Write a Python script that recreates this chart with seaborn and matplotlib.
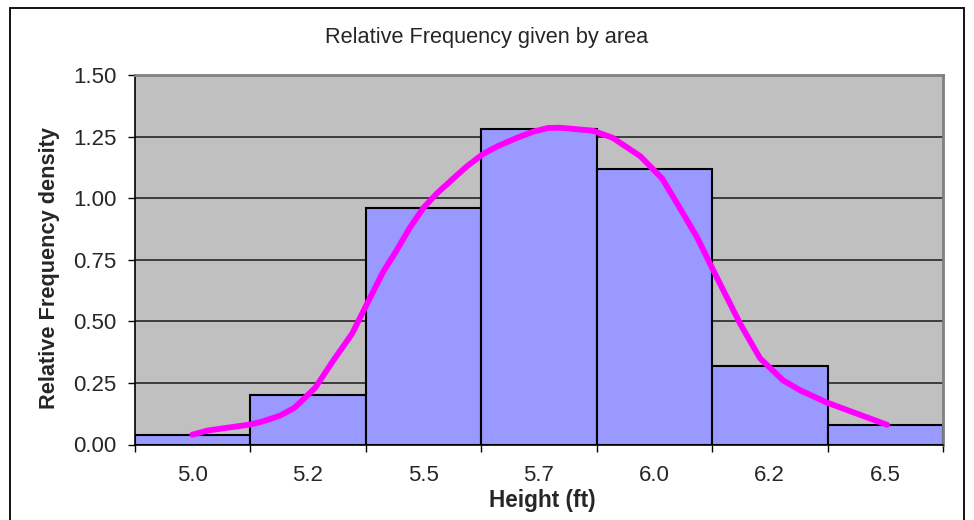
import matplotlib
matplotlib.use("Agg")
import matplotlib.pyplot as plt
import seaborn as sns
import pandas as pd
import numpy as np
from matplotlib.patches import Rectangle

# ---- data ----
categories = ["5.0", "5.2", "5.5", "5.7", "6.0", "6.2", "6.5"]
bin_start = 5.0
bin_width = 0.25
densities = [0.04, 0.20, 0.96, 1.28, 1.12, 0.32, 0.08]

curve_height = [5.000, 5.034, 5.125, 5.153, 5.190, 5.222, 5.266, 5.305, 5.346,
                5.378, 5.413, 5.443, 5.471, 5.500, 5.530, 5.565, 5.595, 5.630,
                5.660, 5.703, 5.738, 5.770, 5.796, 5.867, 5.910, 5.970, 6.017,
                6.049, 6.093, 6.127, 6.186, 6.229, 6.279, 6.316, 6.374, 6.504]
curve_density = [0.04, 0.057, 0.081, 0.094, 0.117, 0.15, 0.23, 0.34, 0.45,
                 0.57, 0.70, 0.79, 0.88, 0.96, 1.02, 1.08, 1.13, 1.18,
                 1.21, 1.245, 1.27, 1.285, 1.286, 1.274, 1.245, 1.17, 1.08,
                 0.98, 0.84, 0.71, 0.49, 0.35, 0.26, 0.22, 0.17, 0.08]

title = "Relative Frequency given by area"
xlabel = "Height (ft)"
ylabel = "Relative Frequency density"
yticks = [0.00, 0.25, 0.50, 0.75, 1.00, 1.25, 1.50]

# ---- style ----
sns.set_style("white")
plt.rcParams["font.family"] = ["Liberation Sans", "DejaVu Sans"]

W, H = 974, 520
fig = plt.figure(figsize=(W / 100, H / 100), dpi=100)
ax = fig.add_axes([134.5 / W, 1 - 444.5 / H, (943 - 134.5) / W, (444.5 - 75) / H])
ax.set_facecolor("#C0C0C0")

df = pd.DataFrame({"cat": categories, "density": densities})
sns.barplot(data=df, x="cat", y="density", order=categories, width=1.0,
            color="#9999FF", saturation=1, edgecolor="black", linewidth=1.5,
            ax=ax, zorder=2)

curve_df = pd.DataFrame({
    "pos": (np.array(curve_height) - bin_start) / bin_width,
    "density": curve_density,
})
sns.lineplot(data=curve_df, x="pos", y="density", sort=False, color="#FF00FF",
             linewidth=4.2, ax=ax, zorder=3, solid_capstyle="round",
             solid_joinstyle="round")

ax.set_xlim(-0.5, len(categories) - 0.5)
ax.set_ylim(0, 1.5)
ax.set_yticks(yticks)
ax.set_yticklabels([f"{v:.2f}" for v in yticks])

# x: labels at centers, tick marks at bin boundaries
ax.set_xticks(np.arange(len(categories)))
ax.set_xticklabels(categories)
ax.set_xticks(np.arange(len(categories) + 1) - 0.5, minor=True)
ax.tick_params(axis="x", which="major", length=0, pad=15, labelsize=16)
ax.tick_params(axis="x", which="minor", length=5, width=1, color="black",
               direction="out", bottom=True)
ax.tick_params(axis="y", length=5, width=1, color="black", direction="out",
               pad=8, labelsize=16, left=True)

ax.yaxis.grid(True, color="#1a1a1a", linewidth=1.1)
ax.set_axisbelow(True)
ax.set_xlabel("")
ax.set_ylabel("")

for side in ["left", "bottom"]:
    ax.spines[side].set_color("black")
    ax.spines[side].set_linewidth(1.2)
for side in ["top", "right"]:
    ax.spines[side].set_visible(True)
    ax.spines[side].set_color("#808080")
    ax.spines[side].set_linewidth(2)

fig.text(0.5, 1 - 38 / H, title, ha="center", va="center", fontsize=15.7)
fig.text(542 / W, 1 - 500 / H, xlabel, ha="center", va="center",
         fontsize=16.3, fontweight="bold")
fig.text(50 / W, 1 - 268 / H, ylabel, ha="center", va="center",
         rotation=90, fontsize=15.7, fontweight="bold")

# outer chart frame (bottom edge lies below the image)
frame = Rectangle((9.5 / W, -0.05), (963.5 - 9.5) / W, 1.05 - 7.5 / H,
                  transform=fig.transFigure, fill=False, edgecolor="black",
                  linewidth=1.3, clip_on=False)
fig.patches.append(frame)

fig.savefig("out.png", dpi=100, facecolor="white")
